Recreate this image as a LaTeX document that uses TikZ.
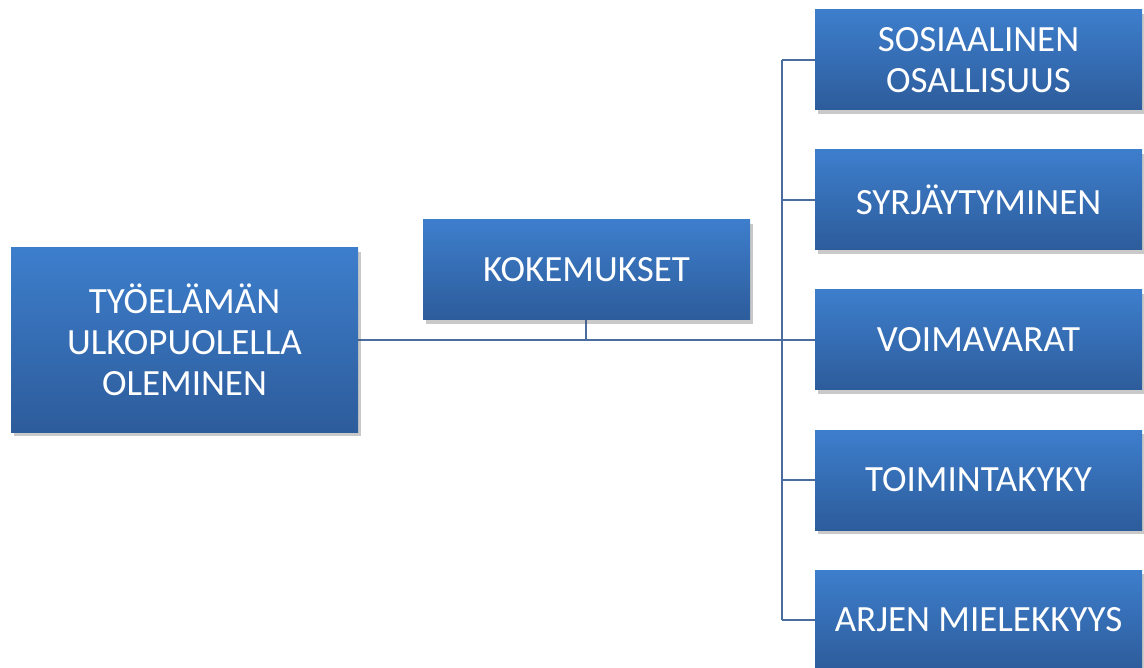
\documentclass[tikz,border=0pt]{standalone}
\usepackage{fontspec}
\setmainfont{Carlito}
\usetikzlibrary{shadows}
\definecolor{boxtop}{RGB}{61,126,204}
\definecolor{boxbot}{RGB}{45,92,155}
\definecolor{linec}{RGB}{74,108,158}
\tikzset{
  box/.style={rectangle, inner sep=0pt, top color=boxtop, bottom color=boxbot,
    text=white, align=center, font=\fontsize{37}{41}\selectfont,
    drop shadow={shadow xshift=3pt, shadow yshift=-4pt, opacity=0.3, fill=black!70}},
  conn/.style={draw=linec, line width=2pt}
}
\begin{document}
\begin{tikzpicture}[x=1pt,y=-1pt]
\useasboundingbox (0,0) rectangle (1144,668);
\coordinate (sp) at (782,340);
\draw[conn] (184,340) -- (sp);
\draw[conn] (586,300) -- (586,340);
\draw[conn] (782,60) -- (782,620);
\foreach \y in {60,200,340,480,620} \draw[conn] (782,\y) -- (830,\y);
\node[box, minimum width=347pt, minimum height=184pt] (left) at (184.5,340) {TYÖELÄMÄN\\ULKOPUOLELLA\\OLEMINEN};
\node[box, minimum width=327pt, minimum height=100pt] (kok) at (586.5,270) {KOKEMUKSET};
\node[box, minimum width=327pt, minimum height=100pt] (r1) at (978.5,60) {SOSIAALINEN\\OSALLISUUS};
\node[box, minimum width=327pt, minimum height=100pt] (r2) at (978.5,200) {SYRJÄYTYMINEN};
\node[box, minimum width=327pt, minimum height=100pt] (r3) at (978.5,340) {VOIMAVARAT};
\node[box, minimum width=327pt, minimum height=100pt] (r4) at (978.5,480) {TOIMINTAKYKY};
\node[box, minimum width=327pt, minimum height=100pt] (r5) at (978.5,620) {ARJEN MIELEKKYYS};
\end{tikzpicture}
\end{document}
